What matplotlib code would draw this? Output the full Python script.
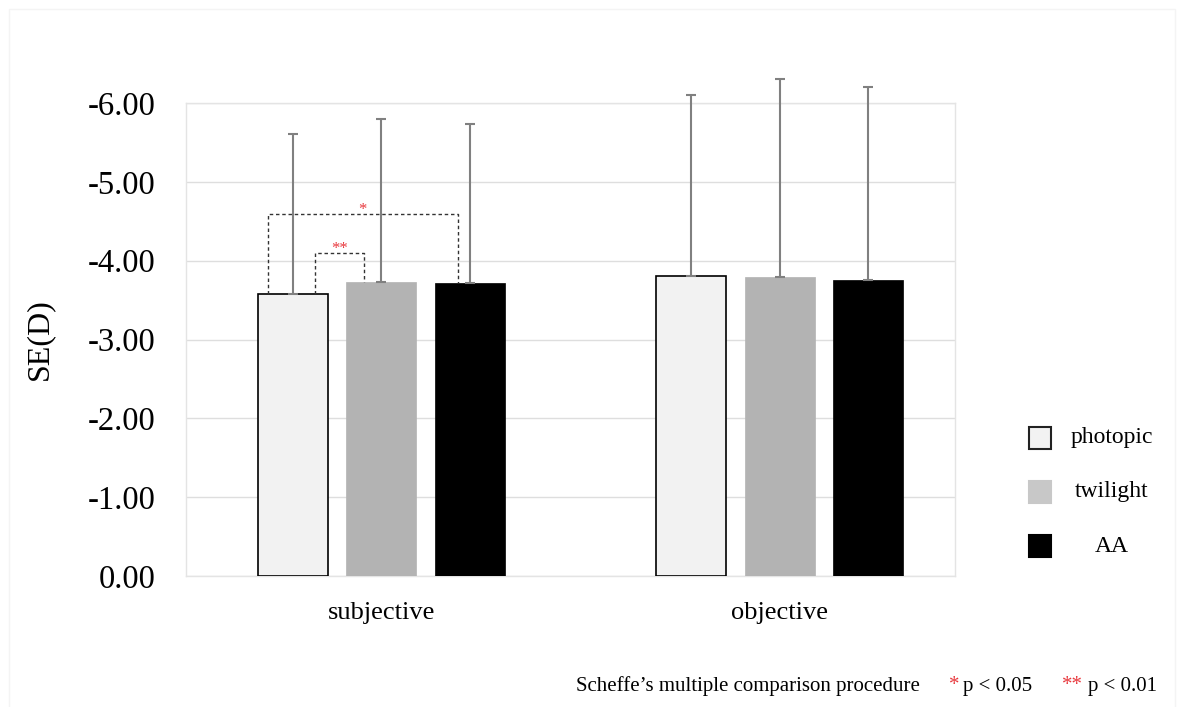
import numpy as np
import matplotlib
matplotlib.use('Agg')
from matplotlib import pyplot as plt
from matplotlib.patches import Rectangle
from matplotlib.ticker import FormatStrFormatter

plt.rcParams['font.family'] = ['Liberation Serif', 'DejaVu Serif']

# data (SE in D, negative values), sd as positive magnitude
categories = ['subjective', 'objective']
conditions = ['photopic', 'twilight', 'AA']
means = {
    'photopic': [-3.58, -3.81],
    'twilight': [-3.73, -3.79],
    'AA': [-3.72, -3.75],
}
sds = {
    'photopic': [2.03, 2.29],
    'twilight': [2.07, 2.51],
    'AA': [2.01, 2.45],
}
y_ticks = [0, -1, -2, -3, -4, -5, -6]

fill = {'photopic': '#f2f2f2', 'twilight': '#b3b3b3', 'AA': '#000000'}
edge = {'photopic': '#000000', 'twilight': '#b3b3b3', 'AA': '#000000'}
legend_fill = {'photopic': '#f2f2f2', 'twilight': '#c8c8c8', 'AA': '#000000'}

fig = plt.figure(figsize=(11.81, 7.07), dpi=100)
ax = fig.add_axes([186 / 1181, 1 - 576 / 707, (955 - 186) / 1181, (576 - 103) / 707])

x = np.arange(len(categories))
w = 0.175
step = 0.222
offs = {'photopic': -step, 'twilight': 0, 'AA': step}

for c in conditions:
    xs = x + offs[c]
    ax.bar(xs, means[c], width=w, color=fill[c], edgecolor=edge[c],
           linewidth=1.2 if c == 'photopic' else 0.5, zorder=3)
    eb = ax.errorbar(xs, means[c], yerr=[sds[c], np.zeros(len(x))], fmt='none',
                     ecolor='#808080', elinewidth=1.5, capsize=3.5, capthick=1.5, zorder=4)
    for art in eb.lines[1] + eb.lines[2]:
        art.set_clip_on(False)

# significance brackets (subjective)
def bracket(x1, y1, x2, y2, top, label):
    ax.plot([x1, x1, x2, x2], [y1, top, top, y2], color='#333333', lw=1,
            ls=(0, (2.5, 2)), zorder=5)
    ax.text((x1 + x2) / 2, top + 0.05, label, color='#e8383d', ha='center',
            va='bottom', fontsize=12, zorder=6)

p0 = x[0] + offs['photopic']
t0 = x[0] + offs['twilight']
a0 = x[0] + offs['AA']
bracket(p0 - 0.063, means['photopic'][0], a0 - 0.030, means['AA'][0], -4.59, '*')
bracket(p0 + 0.055, means['photopic'][0], t0 - 0.043, means['twilight'][0], -4.10, '**')

ax.set_xlim(-0.49, 1.44)
ax.set_ylim(0, -6)
ax.set_yticks(y_ticks)
ax.yaxis.set_major_formatter(FormatStrFormatter('%.2f'))
ax.set_xticks(x)
ax.set_xticklabels(categories, fontsize=19)
ax.tick_params(axis='x', length=0, pad=19)
ax.tick_params(axis='y', length=0, pad=22, labelsize=23.5)
ax.grid(axis='y', color='#dedede', lw=1, zorder=0)
for s in ax.spines.values():
    s.set_color('#e4e4e4')
    s.set_linewidth(1)
ax.set_ylabel('SE(D)', fontsize=23, labelpad=24)

# legend drawn at the right
leg_y = [438, 492, 546]
for c, yy in zip(conditions, leg_y):
    fig.patches.append(Rectangle(((1029) / 1181, 1 - (yy + 11) / 707), 22 / 1181, 22 / 707,
                                 transform=fig.transFigure, facecolor=legend_fill[c],
                                 edgecolor='#222222' if c == 'photopic' else legend_fill[c],
                                 linewidth=1.5))
    fig.text(1112 / 1181, 1 - yy / 707, c, ha='center', va='center', fontsize=17)

# footnote
fy = 1 - 686 / 707
fn = 15
fig.text(576 / 1181, fy, 'Scheffe\u2019s multiple comparison procedure', fontsize=fn, va='center')
fig.text(949 / 1181, fy, '*', fontsize=fn, va='center', color='#e8383d')
fig.text(963 / 1181, fy, 'p < 0.05', fontsize=fn, va='center')
fig.text(1062 / 1181, fy, '**', fontsize=fn, va='center', color='#e8383d')
fig.text(1088 / 1181, fy, 'p < 0.01', fontsize=fn, va='center')

# faint outer frame
fig.patches.append(Rectangle((9 / 1181, -0.01), 1166 / 1181, 1 - 9 / 707 + 0.01,
                             transform=fig.transFigure, fill=False,
                             edgecolor='#f4f4f4', linewidth=1))

fig.savefig('out.png', dpi=100)
